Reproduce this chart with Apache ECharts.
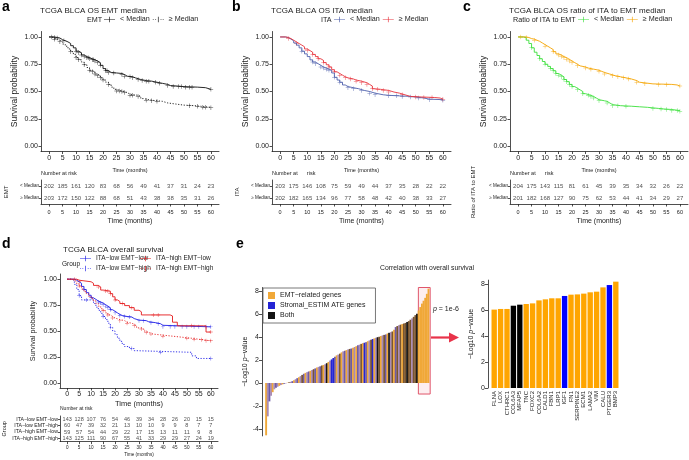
<!DOCTYPE html>
<html>
<head>
<meta charset="utf-8">
<script src="https://cdn.jsdelivr.net/npm/echarts@6/dist/echarts.min.js"></script>
<style>
  html, body { margin: 0; background: #fff; }
  #chart { width: 689px; height: 460px; }
</style>
</head>
<body>
<div id="chart"></div>
<script>
// ---- shared ticks ----
const months = [0, 5, 10, 15, 20, 25, 30, 35, 40, 45, 50, 55, 60];
const probTicks = [0, 0.25, 0.5, 0.75, 1];

// ---- panel a : EMT median ----
const aLow = [[0,1],[2,0.995],[3,0.99],[4,0.975],[5,0.965],[6,0.955],[7,0.94],[8,0.92],[9,0.9],[10,0.87],[11,0.855],[12,0.835],[13,0.82],[14,0.81],[15,0.8],[16,0.79],[17,0.78],[18,0.765],[19,0.74],[20,0.71],[21,0.69],[22,0.675],[23,0.67],[25,0.665],[27,0.655],[28,0.64],[29,0.635],[31,0.625],[32,0.61],[34,0.6],[36,0.595],[38,0.585],[40,0.575],[42,0.565],[44,0.555],[45,0.545],[50,0.54],[55,0.535],[58,0.52],[60,0.52]];
const aHigh = [[0,1],[1,0.99],[2,0.98],[3,0.97],[4,0.955],[5,0.935],[6,0.915],[7,0.89],[8,0.865],[9,0.84],[10,0.81],[11,0.79],[12,0.77],[13,0.745],[14,0.72],[15,0.695],[16,0.68],[17,0.66],[18,0.645],[19,0.625],[20,0.605],[21,0.585],[22,0.565],[23,0.54],[24,0.52],[25,0.505],[27,0.5],[28,0.49],[29,0.475],[30,0.465],[33,0.455],[34,0.435],[35,0.42],[38,0.415],[40,0.41],[42,0.395],[44,0.385],[47,0.375],[50,0.37],[54,0.365],[56,0.355],[60,0.35]];
const aLowCens = [1,2,3,5.5,10,11,12,13,14,14.5,15,16,16.5,17,18,19,21,21.5,22,24,27,28,30,31,33,34.5,36,37,39.5,41,44,46,48,49,50.5,52,53,60];
const aHighCens = [2,4,8,10,11,13,15,16,17,18,19,20,22,25,26,27,28,30,31,33,36,38,40,52,55,57,58,60];
const aRiskLow = [202,185,161,120,83,68,56,49,41,37,31,24,23];
const aRiskHigh = [203,172,150,122,88,68,51,43,38,38,35,31,26];

// ---- panel b : ITA median ----
const bLow = [[0,1],[2,0.995],[3,0.98],[4,0.965],[5,0.945],[6,0.925],[7,0.9],[8,0.87],[9,0.845],[10,0.82],[11,0.79],[12,0.77],[13,0.755],[14,0.74],[15,0.725],[16,0.715],[17,0.705],[18,0.695],[19,0.67],[20,0.63],[21,0.605],[22,0.585],[23,0.56],[24,0.545],[25,0.535],[27,0.525],[29,0.51],[31,0.5],[33,0.485],[35,0.47],[38,0.465],[40,0.46],[44,0.455],[48,0.45],[50,0.44],[53,0.43],[55,0.425],[60,0.42]];
const bHigh = [[0,1],[2,0.995],[3,0.985],[4,0.97],[5,0.955],[6,0.94],[7,0.925],[8,0.91],[9,0.89],[10,0.875],[11,0.86],[12,0.84],[13,0.82],[14,0.8],[15,0.785],[16,0.765],[17,0.745],[18,0.725],[19,0.7],[20,0.68],[21,0.665],[22,0.65],[23,0.635],[24,0.625],[25,0.615],[27,0.605],[28,0.595],[30,0.58],[32,0.565],[33,0.55],[34,0.525],[35,0.52],[37,0.51],[40,0.495],[42,0.485],[44,0.47],[46,0.455],[48,0.45],[52,0.445],[57,0.44],[59,0.43],[60,0.43]];
const bLowCens = [8,12,13,15,16,17,18,20,22,25,27,30,33,35,40,43,45,48,51,55,60];
const bHighCens = [3,6,10,12,14,16,18,20,22,24,26,28,30,32,34,36,38,40,45,50,53,56,60];
const bRiskLow = [203,175,146,108,75,59,49,44,37,35,28,22,22];
const bRiskHigh = [202,182,165,134,96,77,58,48,42,40,38,33,27];

// ---- panel c : ratio of ITA to EMT ----
const cLow = [[0,1],[2,0.995],[3,0.97],[4,0.94],[5,0.9],[6,0.86],[7,0.83],[8,0.8],[9,0.775],[10,0.75],[11,0.73],[12,0.71],[13,0.69],[14,0.665],[15,0.65],[16,0.635],[17,0.61],[18,0.59],[19,0.565],[20,0.545],[21,0.53],[22,0.515],[23,0.5],[24,0.48],[25,0.465],[27,0.455],[28,0.44],[29,0.425],[30,0.415],[32,0.41],[33,0.395],[34,0.38],[35,0.37],[38,0.365],[42,0.36],[45,0.355],[48,0.345],[52,0.34],[54,0.335],[57,0.325],[60,0.32]];
const cHigh = [[0,1],[3,0.995],[4,0.985],[5,0.98],[6,0.97],[7,0.96],[8,0.945],[9,0.93],[10,0.915],[11,0.9],[12,0.885],[13,0.865],[14,0.845],[15,0.835],[16,0.82],[17,0.81],[18,0.795],[19,0.78],[20,0.765],[21,0.75],[22,0.735],[23,0.725],[25,0.715],[26,0.705],[28,0.695],[30,0.685],[31,0.675],[32,0.66],[34,0.645],[36,0.635],[38,0.625],[40,0.615],[42,0.6],[44,0.585],[45,0.57],[50,0.565],[57,0.56],[59,0.55],[60,0.55]];
const cLowCens = [5,8,10,12,13,14,15,16,17,18,19,20,22,24,26,27,28,30,33,35,37,40,50,53,55,57,59,60];
const cHighCens = [1,3,6,10,13,15,16,17,18,19,20,22,25,27,30,32,35,37,39,41,44,47,52,55,60];
const cRiskLow = [204,175,143,115,81,61,45,39,35,34,32,26,22];
const cRiskHigh = [201,182,168,127,90,75,62,53,44,41,34,29,27];

// ---- panel d : four groups ----
const dGroups = ['ITA\u2212low EMT\u2212low', 'ITA\u2212low EMT\u2212high', 'ITA\u2212high EMT\u2212low', 'ITA\u2212high EMT\u2212high'];
const dLowLow = [[0,1],[3,0.99],[4,0.975],[5,0.96],[6,0.93],[7,0.9],[8,0.87],[9,0.845],[10,0.82],[11,0.805],[12,0.79],[13,0.78],[14,0.77],[15,0.755],[16,0.74],[17,0.725],[18,0.705],[19,0.69],[20,0.675],[21,0.66],[22,0.65],[23,0.64],[25,0.635],[27,0.62],[28,0.605],[30,0.6],[33,0.59],[34,0.58],[37,0.57],[39,0.555],[40,0.54],[60,0.54]];
const dLowHigh = [[0,1],[2,0.985],[3,0.95],[4,0.9],[5,0.84],[6,0.8],[10,0.8],[11,0.765],[12,0.73],[13,0.7],[14,0.67],[15,0.64],[16,0.61],[17,0.575],[18,0.535],[19,0.5],[20,0.465],[21,0.43],[22,0.4],[23,0.37],[24,0.35],[26,0.33],[28,0.31],[29,0.295],[51,0.295],[52,0.26],[54,0.235],[60,0.235]];
const dHighLow = [[0,1],[4,0.99],[5,0.975],[10,0.96],[11,0.94],[13,0.925],[14,0.895],[15,0.885],[18,0.86],[19,0.83],[20,0.8],[21,0.785],[22,0.765],[24,0.745],[26,0.725],[28,0.7],[30,0.685],[31,0.655],[43,0.645],[44,0.585],[46,0.55],[57,0.55],[58,0.49],[60,0.49]];
const dHighHigh = [[0,1],[2,0.99],[3,0.975],[4,0.955],[5,0.935],[6,0.905],[7,0.88],[8,0.86],[9,0.835],[10,0.815],[11,0.79],[12,0.765],[13,0.74],[14,0.715],[15,0.695],[16,0.675],[17,0.655],[18,0.64],[19,0.625],[20,0.61],[22,0.6],[24,0.585],[25,0.575],[27,0.565],[28,0.55],[29,0.53],[31,0.52],[32,0.5],[33,0.485],[34,0.47],[36,0.46],[40,0.45],[44,0.44],[48,0.43],[52,0.42],[55,0.415],[57,0.405],[60,0.405]];
const dLowLowCens = [7,10,13,14,15,16,17,18,20,22,24,26,30,32,35,38,40,43,45,48,50,53,55,58,60];
const dLowHighCens = [5,8,15,18,27,39,60];
const dHighLowCens = [3,5,13,16,17,18,20,23,27,36,38,52,60];
const dHighHighCens = [5,15,17,19,22,25,28,31,33,35,40,50,53,56,58,60];
const dRisk = [
  [143,128,107,76,54,46,39,34,28,26,20,15,15],
  [60,47,39,32,21,13,10,10,9,9,8,7,7],
  [59,57,54,44,29,22,17,15,13,11,11,9,8],
  [143,125,111,90,67,55,41,33,29,29,27,24,19]
];

// ---- panel e : ranked -log10 p-values ----
const eValues = [-4.55,-2.9,-1.6,-1.1,-0.8,-0.55,-0.42,-0.33,-0.25,-0.18,
  -0.12,-0.07,-0.03,0.02,0.06,0.1,0.16,0.24,0.33,0.42,
  0.5,0.6,0.7,0.8,0.88,0.94,1.0,1.06,1.12,1.2,
  1.27,1.34,1.4,1.45,1.52,1.57,1.63,1.72,1.83,1.95,
  2.05,2.17,2.28,2.4,2.47,2.55,2.66,2.75,2.8,2.86,
  2.92,2.96,3.0,3.06,3.13,3.2,3.27,3.33,3.4,3.46,
  3.5,3.55,3.63,3.7,3.76,3.82,3.88,3.93,3.98,4.02,
  4.08,4.14,4.18,4.22,4.3,4.36,4.42,4.48,4.62,4.86,
  4.95,5.02,5.07,5.12,5.17,5.22,5.3,5.38,5.5,5.62,
  5.75,5.9,6.02,6.3,6.6,6.9,7.15,7.4,7.75,8.2];
// O orange, L light mix, P purple mix, B blue, K black, R brown mix
const eTypes = ('OLPLOLPLOL' + 'OPLORLPOLP' + 'OLRPOLPOLR' + 'POLPROLKOL' + 'BBPOLROLPO' +
  'LRPOLOPLRO' + 'BPOLRBOLKR' + 'OLRPOKLROP' + 'RLRORRKRRL' + 'RRKOOOOOOO').split('');
const topGenes = ['FLNA','LOX','CTHRC1','COL6A3','MFAP5','TNC','FOXC2','COL6A2','CALD1','FBN1',
  'LRP1','IGF1','FN1','SERPINE2','ECM1','LAMA2','VIM','CALU','PTGER3','BMP3'];
const topValues = [6.03,6.08,6.08,6.33,6.41,6.46,6.51,6.74,6.82,6.9,6.9,7.08,7.18,7.2,7.26,7.36,7.41,7.74,7.92,8.18];
const topTypes = ['O','O','O','K','K','O','O','O','O','O','O','B','O','O','O','O','O','O','B','O'];

// ---- styling ----
const FONT = 'Liberation Sans';
const INK = '#222';
const PLUS = 'path://M4,0h1v9h-1z M0,4h9v1h-9z';
const ICON_SOLID = 'path://M0,4.4h20v1.2h-20z M9.4,0h1.2v10h-1.2z';
const ICON_DOT = 'path://M0,4.4h2v1.2h-2z M4,4.4h2v1.2h-2z M14,4.4h2v1.2h-2z M18,4.4h2v1.2h-2z M9.4,0h1.2v10h-1.2z';
const eColor = { O: '#f0a838', L: '#a98bb6', P: '#6e5ba6', B: '#2424d4', K: '#141414', R: '#7a552f' };
const topColor = { O: '#ffa500', B: '#0000ff', K: '#000000' };

function stepAt(curve, t) {
  let s = curve[0][1];
  curve.forEach(p => { if (p[0] <= t) s = p[1]; });
  return s;
}

const grids = [], xAxes = [], yAxes = [], series = [];
const lineAx = { color: INK, width: 0.8 };

function timeAxis(gi, p) {
  return {
    gridIndex: gi, type: 'value', min: -3, max: 63,
    axisLine: { show: true, onZero: false, lineStyle: lineAx },
    axisTick: { show: true, customValues: months, length: 2.5, lineStyle: lineAx },
    axisLabel: { customValues: months, fontSize: p.tickSize, color: INK, margin: p.xMargin },
    splitLine: { show: false },
    name: 'Time (months)', nameLocation: 'middle', nameGap: p.xNameGap,
    nameTextStyle: { fontSize: p.xNameSize, color: INK }
  };
}

function kmPanel(p) {
  const gi = grids.length;
  grids.push({ left: p.left, top: p.top, width: p.width, height: p.height });
  xAxes.push(timeAxis(gi, p));
  yAxes.push({
    gridIndex: gi, type: 'value', min: -0.05, max: 1.05,
    axisLine: { show: true, onZero: false, lineStyle: lineAx },
    axisTick: { show: true, customValues: probTicks, length: 2.5, lineStyle: lineAx },
    axisLabel: { customValues: probTicks, formatter: v => v.toFixed(2), fontSize: p.tickSize, color: INK, margin: 3 },
    splitLine: { show: false },
    name: 'Survival probability', nameLocation: 'middle', nameRotate: 90, nameGap: p.yNameGap,
    nameTextStyle: { fontSize: p.yNameSize, color: INK }
  });
  p.curves.forEach(c => {
    series.push({
      type: 'line', name: c.name, xAxisIndex: gi, yAxisIndex: gi, data: c.data,
      step: 'end', showSymbol: false, symbol: 'none', silent: true,
      lineStyle: { color: c.color, width: 0.9, type: c.dotted ? [1.2, 1.6] : 'solid' },
      itemStyle: { color: c.color }
    });
    series.push({
      type: 'scatter', name: c.name + ' censor', xAxisIndex: gi, yAxisIndex: gi,
      data: c.cens.map(t => [t, stepAt(c.data, t)]),
      symbol: PLUS, symbolSize: p.plusSize, itemStyle: { color: c.color }, silent: true
    });
  });
}

function riskTable(p) {
  const gi = grids.length;
  grids.push({ left: p.left, top: p.top, width: p.width, height: p.height });
  xAxes.push(timeAxis(gi, p));
  yAxes.push({
    gridIndex: gi, type: 'category', data: p.rowNames, inverse: true,
    axisLine: { show: true, onZero: false, lineStyle: lineAx },
    axisTick: { show: true, alignWithLabel: true, interval: 0, length: 2, lineStyle: lineAx },
    axisLabel: { interval: 0, fontSize: p.rowSize, color: INK, margin: 2 },
    name: p.groupName, nameLocation: 'middle', nameRotate: 90, nameGap: p.yNameGap,
    nameTextStyle: { fontSize: p.groupSize, color: INK }
  });
  p.rows.forEach((vals, ri) => {
    series.push({
      type: 'scatter', xAxisIndex: gi, yAxisIndex: gi, silent: true,
      data: months.map((m, k) => [m, ri, vals[k]]),
      symbolSize: 1, itemStyle: { color: 'rgba(0,0,0,0)' },
      label: { show: true, position: 'inside', formatter: q => q.value[2], fontSize: p.numSize, color: INK }
    });
  });
}

const abcPlot = { top: 31.5, height: 120, tickSize: 7, xMargin: 3.5, xNameGap: 15.5, xNameSize: 5.5, yNameGap: 22, yNameSize: 8.5, plusSize: 4.5 };
const abcTable = { top: 180, height: 24, tickSize: 5.5, xMargin: 5, xNameGap: 14, xNameSize: 7, rowSize: 4.6, groupSize: 6, numSize: 6, rowNames: ['< Median', '\u2265 Median'] };

// a
kmPanel(Object.assign({ left: 41, width: 178, curves: [
  { name: 'a < Median', data: aLow, cens: aLowCens, color: '#111' },
  { name: 'a \u2265 Median', data: aHigh, cens: aHighCens, color: '#111', dotted: true }
] }, abcPlot));
riskTable(Object.assign({ left: 41, width: 178, groupName: 'EMT', yNameGap: 32, rows: [aRiskLow, aRiskHigh] }, abcTable));
// b
kmPanel(Object.assign({ left: 272, width: 179, curves: [
  { name: 'b < Median', data: bLow, cens: bLowCens, color: '#4d5fab' },
  { name: 'b \u2265 Median', data: bHigh, cens: bHighCens, color: '#e8333c' }
] }, abcPlot));
riskTable(Object.assign({ left: 272, width: 179, groupName: 'ITA', yNameGap: 32, rows: [bRiskLow, bRiskHigh] }, abcTable));
// c
kmPanel(Object.assign({ left: 510, width: 178, curves: [
  { name: 'c < Median', data: cLow, cens: cLowCens, color: '#3be03b' },
  { name: 'c \u2265 Median', data: cHigh, cens: cHighCens, color: '#f5a400' }
] }, abcPlot));
riskTable(Object.assign({ left: 510, width: 178, groupName: 'Ratio of ITA to EMT', yNameGap: 34, rows: [cRiskLow, cRiskHigh] }, abcTable));
// d
kmPanel({ left: 60, top: 274, width: 158, height: 114, tickSize: 7, xMargin: 3, xNameGap: 12, xNameSize: 7.5,
  yNameGap: 23, yNameSize: 7.2, plusSize: 4, curves: [
  { name: dGroups[0], data: dLowLow, cens: dLowLowCens, color: '#1c1ce6' },
  { name: dGroups[1], data: dLowHigh, cens: dLowHighCens, color: '#1c1ce6', dotted: true },
  { name: dGroups[2], data: dHighLow, cens: dHighLowCens, color: '#e41a1c' },
  { name: dGroups[3], data: dHighHigh, cens: dHighHighCens, color: '#e41a1c', dotted: true }
] });
riskTable({ left: 60, top: 416, width: 158, height: 25.6, tickSize: 4.6, xMargin: 4, xNameGap: 11, xNameSize: 4.6,
  rowSize: 5.2, groupName: 'Group', groupSize: 5.5, yNameGap: 53, numSize: 5.5, rowNames: dGroups, rows: dRisk });

// e left: ranked bars (grid 8)
grids.push({ left: 267, top: 287.5, width: 164, height: 148.4 });
xAxes.push({ gridIndex: 8, type: 'value', min: 0.5, max: 100.5, show: false });
yAxes.push({
  gridIndex: 8, type: 'value', min: -4.6, max: 8.3, offset: 5,
  axisLine: { show: true, onZero: false, lineStyle: lineAx },
  axisTick: { show: true, customValues: [-4, -2, 0, 2, 4, 6, 8], length: 3, lineStyle: lineAx },
  axisLabel: { customValues: [-4, -2, 0, 2, 4, 6, 8], fontSize: 7, color: INK, margin: 3 },
  splitLine: { show: false },
  name: '\u2212Log10 {i|p}\u2212value', nameLocation: 'middle', nameRotate: 90, nameGap: 13,
  nameTextStyle: { fontSize: 7, color: INK, rich: { i: { fontStyle: 'italic', fontSize: 7, color: INK } } }
});
series.push({
  type: 'bar', name: 'ranked', xAxisIndex: 8, yAxisIndex: 8, silent: true, clip: false,
  barWidth: 1.9,
  data: eValues.map((v, i) => ({ value: [i + 1, v], itemStyle: { color: eColor[eTypes[i]] } })),
  markLine: {
    silent: true, symbol: ['none', 'none'],
    lineStyle: { color: INK, type: [2, 2], width: 0.8 },
    label: { show: false },
    data: [[{ coord: [-2.55, 6] }, { coord: [100.5, 6] }]]
  },
  markArea: {
    silent: true,
    itemStyle: { color: 'rgba(232,90,110,0.10)', borderColor: '#e0566b', borderWidth: 1 },
    data: [[{ coord: [92.8, -0.96] }, { coord: [100, 9.2] }]]
  }
});
[['EMT\u2212related genes', '#f0a838'], ['Stromal_ESTIM ATE genes', '#2424d4'], ['Both', '#141414']].forEach(s => {
  series.push({ type: 'bar', name: s[0], xAxisIndex: 8, yAxisIndex: 8, data: [], itemStyle: { color: s[1] } });
});

// e right: top genes (grid 9)
grids.push({ left: 491, top: 280.1, width: 128, height: 107.9 });
xAxes.push({
  gridIndex: 9, type: 'category', data: topGenes,
  axisLine: { show: false }, axisTick: { show: false },
  axisLabel: { interval: 0, rotate: 90, fontSize: 6, color: INK, margin: 3 }
});
yAxes.push({
  gridIndex: 9, type: 'value', min: 0, max: 8.3, offset: 3,
  axisLine: { show: true, onZero: false, lineStyle: lineAx },
  axisTick: { show: true, customValues: [0, 2, 4, 6, 8], length: 3, lineStyle: lineAx },
  axisLabel: { customValues: [0, 2, 4, 6, 8], fontSize: 7, color: INK, margin: 3 },
  splitLine: { show: false },
  name: '\u2212Log10 {i|p}\u2212value', nameLocation: 'middle', nameRotate: 90, nameGap: 13,
  nameTextStyle: { fontSize: 7, color: INK, rich: { i: { fontStyle: 'italic', fontSize: 7, color: INK } } }
});
series.push({
  type: 'bar', name: 'top', xAxisIndex: 9, yAxisIndex: 9, silent: true, barWidth: '84%',
  data: topValues.map((v, i) => ({ value: v, itemStyle: { color: topColor[topTypes[i]] } }))
});

const txt = (text, left, top, size, extra) => ({
  text, left, top, padding: 0,
  textStyle: Object.assign({ fontSize: size, color: INK, fontWeight: 'normal', fontFamily: FONT }, extra || {})
});
const bold = { fontWeight: 'bold', color: '#000' };

const legendBase = {
  padding: 0, itemGap: 3, itemWidth: 11, itemHeight: 6,
  textStyle: { fontSize: 7.2, color: INK, fontFamily: FONT }, selectedMode: false
};
const kmLegend = (left, top, names, icons, fmt) => Object.assign({}, legendBase, {
  left, top, data: names.map((n, i) => ({ name: n, icon: icons[i] })),
  formatter: fmt || (n => n)
});
const strip = n => n.slice(2);

const option = {
  animation: false,
  backgroundColor: '#fff',
  textStyle: { fontFamily: FONT },
  title: [
    txt('a', 2, 0, 14, bold), txt('b', 232, 0, 14, bold), txt('c', 463, 0, 14, bold),
    txt('d', 2, 237, 14, bold), txt('e', 236, 237, 14, bold),
    txt('TCGA BLCA OS EMT median', 40, 7, 8),
    txt('TCGA BLCA OS ITA median', 271, 7, 8),
    txt('TCGA BLCA OS ratio of ITA to EMT median', 509, 7, 8),
    txt('TCGA BLCA overall survival', 63, 246, 8),
    txt('EMT', 87, 16.5, 7.2), txt('ITA', 321, 16.5, 7.2), txt('Ratio of ITA to EMT', 513, 16.5, 7.2),
    txt('Group', 62, 260.5, 6.5),
    txt('Number at risk', 41, 170.5, 5.5),
    txt('Number at      risk', 272, 170.5, 5.5),
    txt('Number at      risk', 510, 170.5, 5.5),
    txt('Number at risk', 60, 406.5, 5),
    txt('Correlation with overall survival', 380, 264.5, 6.8),
    { text: '{i|p} = 1e-6', left: 433, top: 306, padding: 0,
      textStyle: { fontSize: 7, color: INK, fontWeight: 'normal', fontFamily: FONT,
        rich: { i: { fontStyle: 'italic', fontSize: 7, color: INK, fontFamily: FONT } } } }
  ],
  legend: [
    kmLegend(104, 16, ['a < Median', 'a \u2265 Median'], [ICON_SOLID, ICON_DOT], strip),
    kmLegend(334, 16, ['b < Median', 'b \u2265 Median'], [ICON_SOLID, ICON_SOLID], strip),
    kmLegend(578, 16, ['c < Median', 'c \u2265 Median'], [ICON_SOLID, ICON_SOLID], strip),
    Object.assign(kmLegend(80, 255, [dGroups[0], dGroups[1]], [ICON_SOLID, ICON_DOT]), { orient: 'vertical', textStyle: { fontSize: 6.5, color: INK } }),
    Object.assign(kmLegend(140, 255, [dGroups[2], dGroups[3]], [ICON_SOLID, ICON_DOT]), { orient: 'vertical', textStyle: { fontSize: 6.5, color: INK } }),
    {
      left: 263, top: 288, orient: 'vertical', selectedMode: false,
      data: ['EMT\u2212related genes', 'Stromal_ESTIM ATE genes', 'Both'],
      icon: 'rect', itemWidth: 7, itemHeight: 7, itemGap: 3,
      borderColor: '#555', borderWidth: 0.8, padding: [4, 10, 4, 5],
      textStyle: { fontSize: 7, color: INK, fontFamily: FONT }
    }
  ],
  grid: grids,
  xAxis: xAxes,
  yAxis: yAxes,
  series: series,
  graphic: [
    { type: 'line', shape: { x1: 431, y1: 337.5, x2: 451, y2: 337.5 }, style: { stroke: '#e8334a', lineWidth: 2.2 } },
    { type: 'polygon', shape: { points: [[449, 332.5], [459, 337.5], [449, 342.5]] }, style: { fill: '#e8334a' } }
  ]
};

const chart = echarts.init(document.getElementById('chart'));
chart.setOption(option);
</script>
</body>
</html>
